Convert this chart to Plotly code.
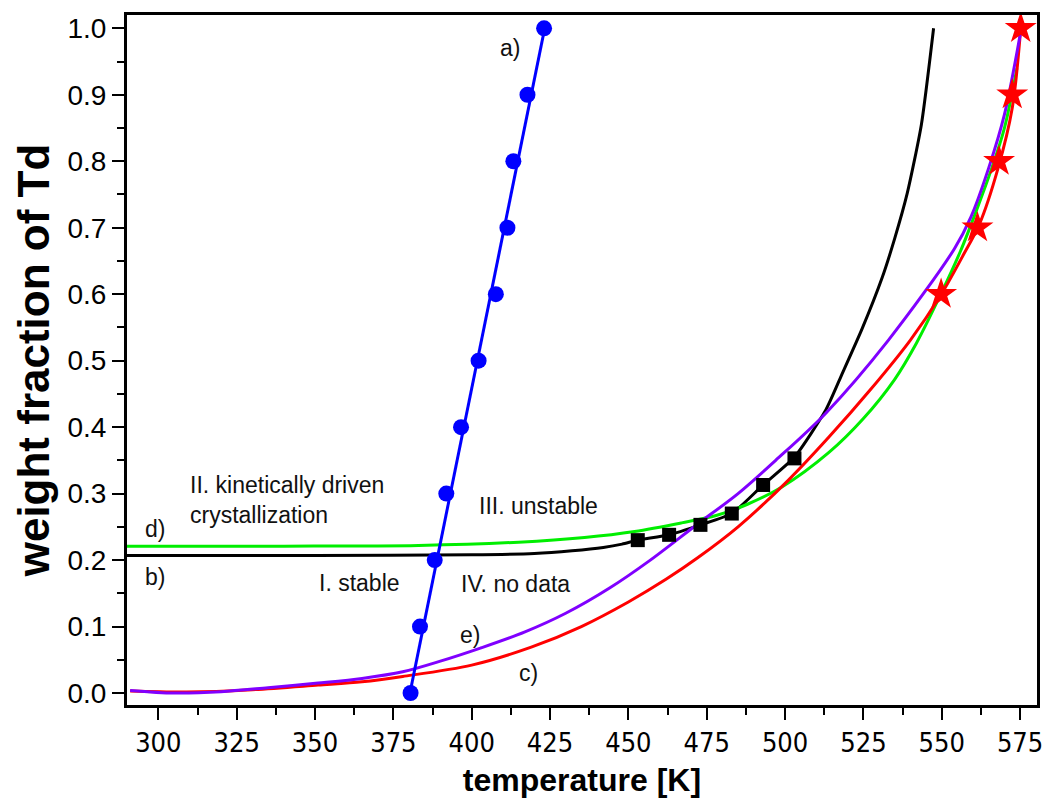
import plotly.graph_objects as go

# a) blue data points and linear fit
a_T = [380.5, 383.5, 388.2, 391.9, 396.6, 402.2, 407.7, 411.4, 413.3, 417.8, 423.1]
a_w = [0.0, 0.1, 0.2, 0.3, 0.4, 0.5, 0.6, 0.7, 0.8, 0.9, 1.0]
a_fit_T = [380.3, 423.3]
a_fit_w = [0.0, 1.0]

# b) black curve and squares
b_T = [290, 350, 400, 420, 432, 442, 448, 453, 463, 473, 483, 493, 503, 513, 518, 524.5, 531, 535, 539,
       543.5, 547.4]
b_w = [0.207, 0.207, 0.208, 0.210, 0.214, 0.219, 0.224, 0.230, 0.238, 0.253, 0.270, 0.313, 0.355, 0.426,
       0.478, 0.547, 0.625, 0.684, 0.752, 0.855, 1.0]
b_sq_T = [453, 463, 473, 483, 493, 503]
b_sq_w = [0.230, 0.238, 0.253, 0.270, 0.313, 0.353]

# c) red curve and stars
c_T = [291, 309, 330, 351, 365, 378, 400, 419, 435, 450, 462, 472, 485, 501, 514, 527, 540, 550, 557, 562,
       568, 572.5, 575.2]
c_w = [0.003, 0.0015, 0.005, 0.012, 0.017, 0.025, 0.042, 0.069, 0.10, 0.137, 0.171, 0.203, 0.25, 0.32,
       0.385, 0.455, 0.531, 0.601, 0.66, 0.705, 0.79, 0.88, 1.0]
c_star_T = [549.8, 561.4, 568.3, 572.5, 575.2]
c_star_w = [0.6, 0.7, 0.8, 0.9, 1.0]

# d) green curve
d_T = [290, 340, 383, 415, 436, 452, 467, 478, 488, 499, 514, 525, 535, 542, 550, 556, 561, 566, 570, 574]
d_w = [0.221, 0.221, 0.222, 0.227, 0.234, 0.243, 0.256, 0.267, 0.284, 0.31, 0.362, 0.413, 0.472, 0.527,
       0.603, 0.665, 0.725, 0.79, 0.85, 0.94]

# e) purple curve
e_T = [291, 305, 320, 335, 351, 365, 378, 390, 403, 417, 430, 444, 457, 472, 485, 497, 513, 533, 554,
       559.3, 565, 570, 575.2]
e_w = [0.004, 0.0, 0.002, 0.008, 0.015, 0.022, 0.032, 0.048, 0.068, 0.092, 0.12, 0.158, 0.2, 0.254, 0.30,
       0.35, 0.421, 0.531, 0.668, 0.716, 0.79, 0.87, 0.995]

x_ticks = [300, 325, 350, 375, 400, 425, 450, 475, 500, 525, 550, 575]
y_ticks = [0.0, 0.1, 0.2, 0.3, 0.4, 0.5, 0.6, 0.7, 0.8, 0.9, 1.0]

labels = [
    ("a)", 412.1, 0.970, "center"),
    ("b)", 295.2, 0.174, "left"),
    ("c)", 418.0, 0.030, "center"),
    ("d)", 295.2, 0.247, "left"),
    ("e)", 399.3, 0.087, "center"),
    ("I. stable", 364.2, 0.166, "center"),
    ("IV. no data", 414.0, 0.164, "center"),
    ("III. unstable", 421.3, 0.281, "center"),
    ("II. kinetically driven<br>crystallization", 309.4, 0.290, "left"),
]

fig = go.Figure()
fig.add_trace(go.Scatter(x=b_T, y=b_w, mode="lines", line=dict(color="black", width=3, shape="spline", smoothing=0.6)))
fig.add_trace(go.Scatter(x=d_T, y=d_w, mode="lines", line=dict(color="#00ee00", width=3, shape="spline", smoothing=0.9)))
fig.add_trace(go.Scatter(x=c_T, y=c_w, mode="lines", line=dict(color="#ff0000", width=3, shape="spline", smoothing=0.9)))
fig.add_trace(go.Scatter(x=e_T, y=e_w, mode="lines", line=dict(color="#8000ff", width=3, shape="spline", smoothing=0.9)))
fig.add_trace(go.Scatter(x=b_sq_T, y=b_sq_w, mode="markers", marker=dict(symbol="square", size=14, color="black")))
fig.add_trace(go.Scatter(x=c_star_T, y=c_star_w, mode="markers", marker=dict(symbol="star", size=24, color="#ff0000")))
fig.add_trace(go.Scatter(x=a_fit_T, y=a_fit_w, mode="lines", line=dict(color="#0000ff", width=3)))
fig.add_trace(go.Scatter(x=a_T, y=a_w, mode="markers", marker=dict(symbol="circle", size=16, color="#0000ff")))

for txt, xx, yy, anc in labels:
    fig.add_annotation(x=xx, y=yy, xref="x", yref="y", text=txt, showarrow=False,
                       xanchor=anc, yanchor="middle", align="left",
                       font=dict(family="Liberation Sans, Arial", size=23, color="#111111"))

fig.update_layout(
    width=1054, height=805,
    margin=dict(l=127, r=11, t=15, b=100),
    paper_bgcolor="white", plot_bgcolor="white",
    showlegend=False,
    xaxis=dict(range=[290, 580.4], tickvals=x_ticks, ticktext=[str(v) for v in x_ticks],
               ticks="outside", ticklen=12, tickwidth=2, tickcolor="black",
               minor=dict(dtick=12.5, tick0=300, ticks="outside", ticklen=7, tickwidth=2, tickcolor="black"),
               showline=True, linewidth=3, linecolor="black", mirror=True, showgrid=False, zeroline=False,
               tickfont=dict(family="Liberation Sans Narrow, DejaVu Sans Condensed, Liberation Sans", size=27, color="black"),
               title=dict(text="<b>temperature [K]</b>", standoff=12,
                          font=dict(family="Liberation Sans, Arial", size=32, color="black"))),
    yaxis=dict(range=[-0.018, 1.02], tickvals=y_ticks, ticktext=[f"{v:.1f}" for v in y_ticks],
               ticks="outside", ticklen=12, tickwidth=2, tickcolor="black",
               minor=dict(dtick=0.05, tick0=0, ticks="outside", ticklen=7, tickwidth=2, tickcolor="black"),
               showline=True, linewidth=3, linecolor="black", mirror=True, showgrid=False, zeroline=False,
               tickfont=dict(family="Liberation Sans, Arial", size=28, color="black"),
               title=dict(text="<b>weight fraction of Td</b>", standoff=5,
                          font=dict(family="Liberation Sans, Arial", size=44, color="black"))),
)

fig.write_html("out.html")
